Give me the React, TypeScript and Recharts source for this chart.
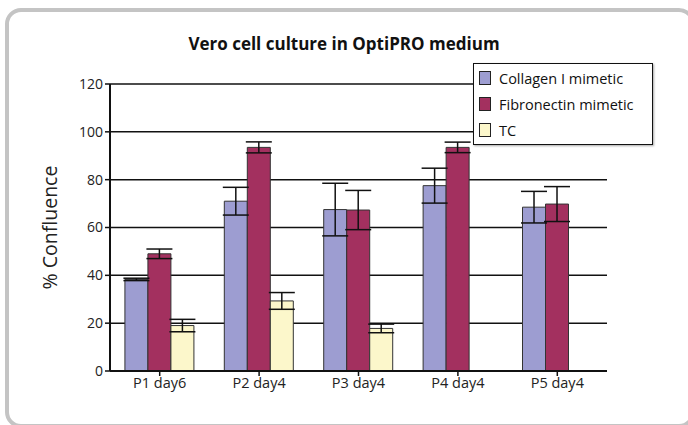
import React from 'react';
import { BarChart, Bar, XAxis, YAxis, CartesianGrid, ErrorBar } from 'recharts';

const categories = ['P1 day6', 'P2 day4', 'P3 day4', 'P4 day4', 'P5 day4'];
const collagen = [38.3, 71, 67.5, 77.5, 68.5];
const collagenErr = [0.5, 5.8, 11, 7.3, 6.6];
const fibronectin = [49, 93.5, 67.3, 93.5, 69.8];
const fibronectinErr = [2, 2.3, 8.2, 2.2, 7.3];
const tc = [19, 29.3, 17.8, null, null];
const tcErr = [2.6, 3.5, 1.8, null, null];
const yTicks = [0, 20, 40, 60, 80, 100, 120];

const seriesNames = ['Collagen I mimetic', 'Fibronectin mimetic', 'TC'];
const seriesColors = ['#9d9dd1', '#a3305f', '#fcf7cb'];

const data = categories.map((c, i) => ({
  name: c,
  collagen: collagen[i],
  collagenErr: collagenErr[i],
  fibronectin: fibronectin[i],
  fibronectinErr: fibronectinErr[i],
  tc: tc[i],
  tcErr: tcErr[i],
}));

const FONT = '"Open Sans", "Noto Sans", sans-serif';

const LegendBox = () => (
  <div
    style={{
      position: 'absolute',
      left: 473,
      top: 63,
      width: 180,
      height: 82,
      border: '1.5px solid #111',
      background: '#fff',
      boxShadow: '1px 1px 2px rgba(0,0,0,0.35)',
      boxSizing: 'border-box',
      padding: '1px 0 0 5px',
      fontFamily: FONT,
      fontSize: 14.5,
      color: '#111',
    }}
  >
    {seriesNames.map((n, i) => (
      <div key={n} style={{ display: 'flex', alignItems: 'center', height: 26 }}>
        <span
          style={{
            display: 'inline-block',
            width: 10,
            height: 12,
            background: seriesColors[i],
            border: '1.5px solid #222',
            marginRight: 8,
          }}
        />
        <span>{n}</span>
      </div>
    ))}
  </div>
);

export default function App() {
  return (
    <div style={{ position: 'absolute', left: 0, top: 0, width: 688, height: 425, background: '#fff', overflow: 'hidden' }}>
      <div
        style={{
          position: 'absolute',
          left: 5,
          top: 8,
          width: 690,
          height: 420,
          border: '4px solid #c4c4c4',
          borderRadius: 16,
          boxSizing: 'border-box',
        }}
      />
      <div
        style={{
          position: 'absolute',
          left: 0,
          width: 688,
          top: 32,
          textAlign: 'center',
          fontFamily: FONT,
          fontWeight: 'bold',
          fontSize: 17,
          color: '#111',
        }}
      >
        Vero cell culture in OptiPRO medium
      </div>
      <div style={{ position: 'absolute', left: 0, top: 0 }}>
        <BarChart
          width={688}
          height={425}
          data={data}
          margin={{ top: 84, right: 81, left: 40, bottom: 24 }}
          barCategoryGap="15%"
          barGap={0}
        >
          <CartesianGrid yAxisId="left" vertical={false} stroke="#111" strokeWidth={1.5} />
          <XAxis
            dataKey="name"
            height={30}
            tick={{ fontFamily: FONT, fontSize: 14.5, fill: '#222' }}
            tickLine={{ stroke: '#111', strokeWidth: 1.5 }}
            axisLine={{ stroke: '#111', strokeWidth: 2 }}
            tickSize={5}
            interval={0}
          />
          <YAxis
            yAxisId="left"
            width={70}
            domain={[0, 120]}
            ticks={yTicks}
            interval={0}
            tick={{ fontFamily: FONT, fontSize: 14, fill: '#222' }}
            tickLine={{ stroke: '#111', strokeWidth: 1.5 }}
            axisLine={{ stroke: '#111', strokeWidth: 2 }}
            tickSize={5}
            label={{
              value: '% Confluence',
              angle: -90,
              position: 'insideLeft',
              offset: 10,
              style: { fontFamily: FONT, fontSize: 19.5, fill: '#222', textAnchor: 'middle' },
            }}
          />
          <YAxis
            yAxisId="right"
            orientation="right"
            width={0}
            domain={[0, 120]}
            tick={false}
            tickLine={false}
            axisLine={{ stroke: '#111', strokeWidth: 2 }}
          />
          <Bar yAxisId="left" dataKey="collagen" fill={seriesColors[0]} stroke="#333" strokeWidth={1} isAnimationActive={false}>
            <ErrorBar dataKey="collagenErr" width={13} stroke="#111" strokeWidth={1.5} />
          </Bar>
          <Bar yAxisId="left" dataKey="fibronectin" fill={seriesColors[1]} stroke="#333" strokeWidth={1} isAnimationActive={false}>
            <ErrorBar dataKey="fibronectinErr" width={13} stroke="#111" strokeWidth={1.5} />
          </Bar>
          <Bar yAxisId="left" dataKey="tc" fill={seriesColors[2]} stroke="#333" strokeWidth={1} isAnimationActive={false}>
            <ErrorBar dataKey="tcErr" width={13} stroke="#111" strokeWidth={1.5} />
          </Bar>
        </BarChart>
      </div>
      <LegendBox />
    </div>
  );
}
